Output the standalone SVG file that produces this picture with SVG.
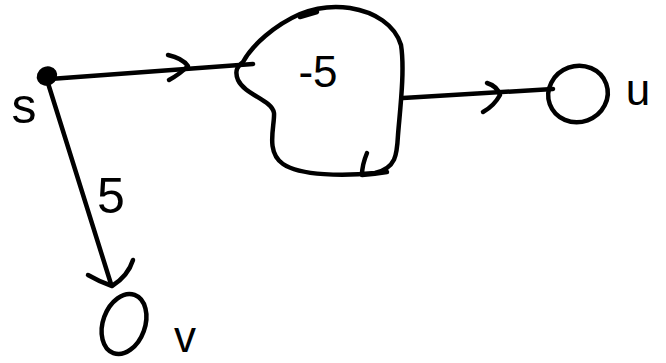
<svg xmlns="http://www.w3.org/2000/svg" width="666" height="363" viewBox="0 0 666 363">
<style>
.ink{fill:none;stroke:#000;stroke-width:4.5;stroke-linecap:round;stroke-linejoin:round}
.lbl{font-family:"Liberation Sans",Arial,sans-serif;fill:#000}
</style>
<rect width="666" height="363" fill="#fff"/>
<g id="connectors">
  <path class="ink" d="M50,79 L253,64"/>
  <path class="ink" d="M168,55 Q182,58 188,66 Q180,74 169,80"/>
  <path class="ink" d="M403,98 L553,89"/>
  <path class="ink" d="M487,83 Q497,86 500,95 Q494,106 483,112"/>
  <path class="ink" d="M47,80 L111,284"/>
  <path class="ink" d="M88,275 Q100,282 112,286 Q128,276 133,260"/>
  <text class="lbl" x="111" y="213" font-size="50" text-anchor="middle">5</text>
</g>
<g id="node-s">
  <ellipse cx="47" cy="76" rx="8" ry="7" fill="#000" stroke="#000" stroke-width="5" transform="rotate(-30 47 76)"/>
  <text class="lbl" x="24" y="123" font-size="50" text-anchor="middle">s</text>
</g>
<g id="node-blob">
  <path class="ink" d="M243,62 C252,45 275,25 300,14 C315,8 330,5 350,8 C375,12 395,25 401,45 C405,70 400,110 398,135 C397,155 396,168 375,173 C345,176 300,176 283,164 C265,152 275,125 274,113 C272,100 245,95 238,80 C234,70 238,66 243,62 Z"/>
  <path class="ink" d="M300,17 L317,12"/>
  <path class="ink" d="M367,153 Q362,165 362,175 Q375,174 387,172"/>
  <text class="lbl" x="318" y="87" font-size="44" text-anchor="middle">-5</text>
</g>
<g id="node-u">
  <ellipse class="ink" cx="578" cy="94" rx="30" ry="28" transform="rotate(-20 578 94)"/>
  <text class="lbl" x="638" y="105" font-size="44" text-anchor="middle">u</text>
</g>
<g id="node-v">
  <ellipse class="ink" cx="124" cy="324" rx="21" ry="31" transform="rotate(20 124 324)"/>
  <text class="lbl" x="185" y="352" font-size="44" text-anchor="middle">v</text>
</g>
</svg>
